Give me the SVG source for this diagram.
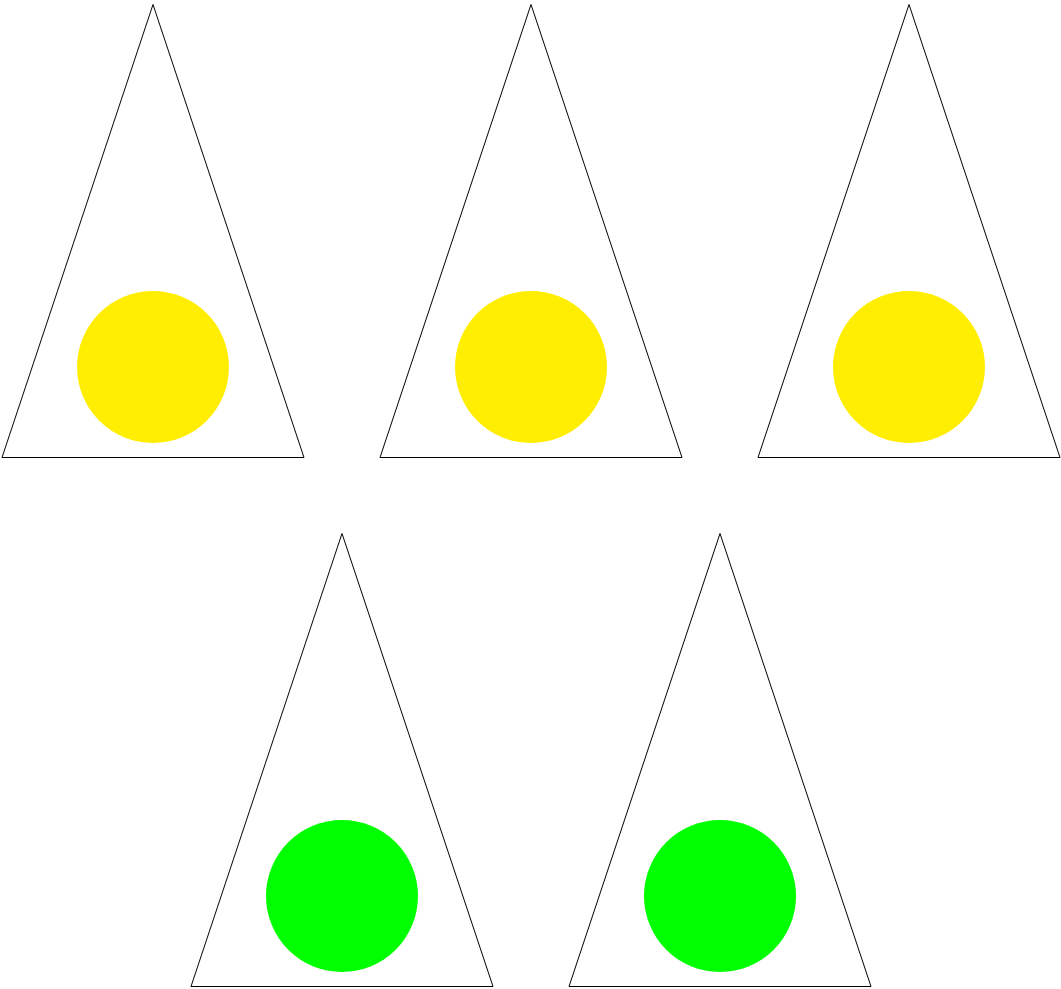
<svg xmlns="http://www.w3.org/2000/svg" width="1061" height="989" viewBox="0 0 1061 989">
<style>
.tri{fill:none;stroke:#000;stroke-width:1}
.y{fill:#FFEE00}
.g{fill:#00FF00}
</style>
<rect width="1061" height="989" fill="#fff"/>
<g id="node1"><polygon class="tri" points="153,4.5 304,457.5 2,457.5"/><circle class="y" cx="153" cy="367" r="76"/></g>
<g id="node2"><polygon class="tri" points="531,4.5 682,457.5 380,457.5"/><circle class="y" cx="531" cy="367" r="76"/></g>
<g id="node3"><polygon class="tri" points="909,4.5 1060,457.5 758,457.5"/><circle class="y" cx="909" cy="367" r="76"/></g>
<g id="node4"><polygon class="tri" points="342,533.5 493,986.5 191,986.5"/><circle class="g" cx="342" cy="896" r="76"/></g>
<g id="node5"><polygon class="tri" points="720,533.5 871,986.5 569,986.5"/><circle class="g" cx="720" cy="896" r="76"/></g>
<g id="connectors"/>
</svg>
